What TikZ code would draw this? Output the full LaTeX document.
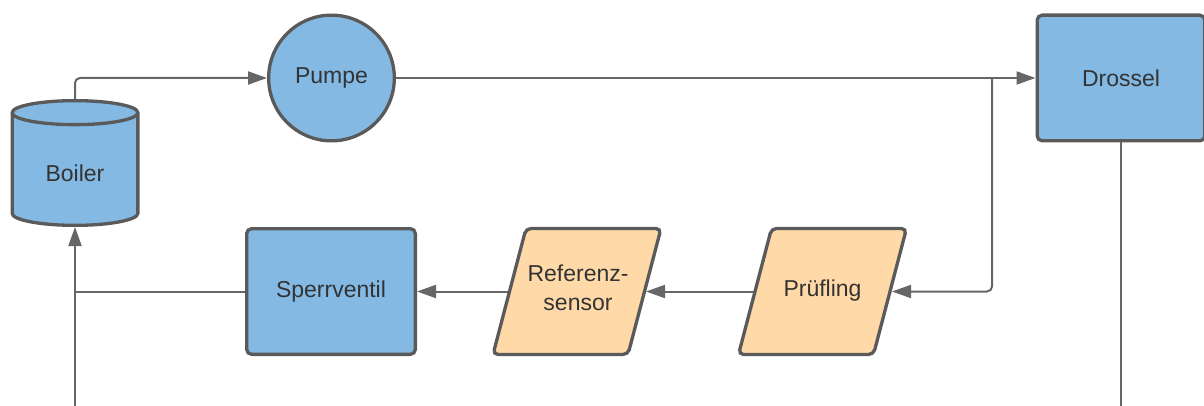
\documentclass[tikz,border=0pt]{standalone}
\usepackage{fontspec}
\setmainfont{Liberation Sans}
\usetikzlibrary{arrows.meta}
\definecolor{boxblue}{HTML}{83B9E3}
\definecolor{boxorange}{HTML}{FFDAA8}
\definecolor{edge}{HTML}{5A5A5A}
\definecolor{wire}{HTML}{666666}
\definecolor{ink}{HTML}{333333}
\tikzset{
  lbl/.style={text=ink, font=\fontsize{23}{29}\selectfont, align=center, inner sep=0pt},
  bluebox/.style={lbl, rectangle, rounded corners=5pt, draw=edge, line width=3.3pt, fill=boxblue},
  bluecircle/.style={lbl, circle, draw=edge, line width=3.3pt, fill=boxblue, minimum size=125.7pt},
  parabox/.style={draw=edge, line width=3.3pt, fill=boxorange, rounded corners=5pt},
  conn/.style={draw=wire, line width=2pt, rounded corners=5pt},
  arr/.style={conn, -{Triangle[length=19pt,width=13pt]}}
}
\begin{document}
\begin{tikzpicture}[x=1pt,y=1pt]
\useasboundingbox (0,0) rectangle (1204,405);

% boiler drum
\draw[draw=edge, line width=3.3pt, fill=boxblue]
  (12.15,292.35) -- (12.15,191.65)
  arc[start angle=180, end angle=360, x radius=62.85, y radius=12]
  -- (137.85,292.35)
  arc[start angle=0, end angle=180, x radius=62.85, y radius=12] -- cycle;
\draw[draw=edge, line width=3.3pt]
  (12.15,292.35) arc[start angle=180, end angle=360, x radius=62.85, y radius=12];
\node[inner sep=0pt, outer sep=0pt, minimum width=129pt, minimum height=128pt] (boiler) at (75,242) {};
\node[lbl] (boilerlabel) at (75,232) {Boiler};

% pump, throttle, shut-off valve
\node[bluecircle] (pumpe) at (331.5,327) {Pumpe};
\node[bluebox, minimum width=167.7pt, minimum height=125.7pt] (drossel) at (1121,327) {Drossel};
\node[bluebox, minimum width=168.7pt, minimum height=125.7pt] (sperr) at (331,113.5) {Sperrventil};

% reference sensor
\draw[parabox] (493,50.5) -- (526,176.5) -- (661,176.5) -- (628,50.5) -- cycle;
\node[lbl] (ref) at (578,117) {Referenz-\\sensor};
\coordinate (refW) at (508,113.5);
\coordinate (refE) at (646,113.5);

% device under test
\draw[parabox] (738.5,50.5) -- (771.5,176.5) -- (906.5,176.5) -- (873.5,50.5) -- cycle;
\node[lbl] (pruef) at (822.5,114.5) {Prüfling};
\coordinate (pruefW) at (754,113.5);
\coordinate (pruefE) at (892,113.5);

% junctions and open ends
\coordinate (split) at (992,327);
\coordinate (join) at (75,113.5);
\coordinate (botL) at (75,-5);
\coordinate (botR) at (1121,-5);

% connectors
\draw[arr] (boiler.north) |- (pumpe.west);
\draw[arr] (pumpe.east) -- (drossel.west);
\draw[arr] (split) |- (pruefE);
\draw[arr] (pruefW) -- (refE);
\draw[arr] (refW) -- (sperr.east);
\draw[conn] (sperr.west) -- (join);
\draw[arr] (botL) -- (boiler.south);
\draw[conn] (drossel.south) -- (botR);
\end{tikzpicture}
\end{document}
